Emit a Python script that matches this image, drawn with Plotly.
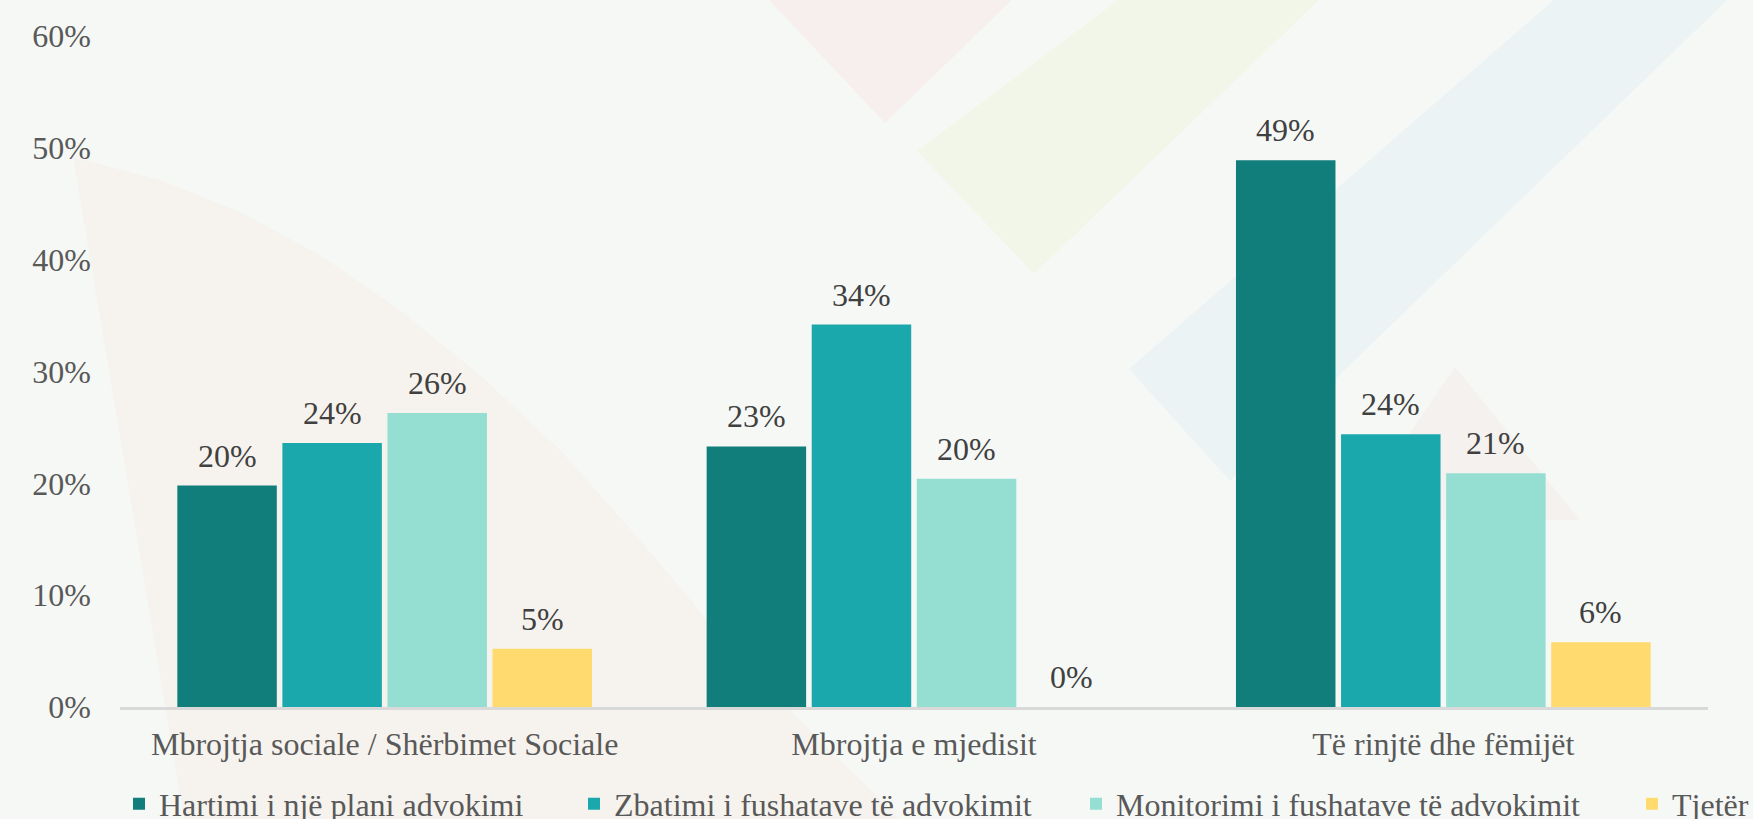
import plotly.graph_objects as go

# ---- data ----
categories = ["Mbrojtja sociale / Shërbimet Sociale", "Mbrojtja e mjedisit", "Të rinjtë dhe fëmijët"]
series_names = [
    "Hartimi i një plani advokimi",
    "Zbatimi i fushatave të advokimit",
    "Monitorimi i fushatave të advokimit",
    "Tjetër",
]
hartimi = [19.8, 23.3, 48.9]
zbatimi = [23.6, 34.2, 24.4]
monitorimi = [26.3, 20.4, 20.9]
tjeter = [5.2, 0.0, 5.8]
y_ticks = [0, 10, 20, 30, 40, 50, 60]
y_tick_labels = [f"{v}%" for v in y_ticks]

colors = ["#117E7B", "#1BA8AD", "#94DFD1", "#FFDA6E"]
series_values = [hartimi, zbatimi, monitorimi, tjeter]

W, H = 1753, 819
ML, MR, MT, MB = 120, 45, 36, 112
PW, PH = W - ML - MR, H - MT - MB
BARGAP, BARGROUPGAP = 0.206, 0.053

FONT = "Liberation Serif, Times New Roman, serif"
BG = "#F6F8F6"

fig = go.Figure()
legend_ids = ["legend", "legend2", "legend3", "legend4"]
for name, vals, col, lid in zip(series_names, series_values, colors, legend_ids):
    fig.add_trace(go.Bar(
        x=categories, y=vals, name=name,
        marker=dict(color=col, line=dict(width=0)),
        legend=lid, hoverinfo="x+y+name",
    ))

# data labels above each bar (offset to follow the grouped-bar slots)
n_series = len(series_values)
slot_px = PW / len(categories) * (1 - BARGAP) / n_series
annotations = []
for i, vals in enumerate(series_values):
    for cat, v in zip(categories, vals):
        annotations.append(dict(
            x=cat, y=v, xref="x", yref="y",
            text=f"{v:.0f}%", showarrow=False,
            xshift=(i - (n_series - 1) / 2) * slot_px, yshift=10,
            yanchor="bottom", xanchor="center",
            font=dict(family=FONT, size=32, color="#404040"),
        ))

# faint decorative background shapes (pixel coords -> paper coords)
def to_paper(pts):
    return [((x - ML) / PW, (H - MB - y) / PH) for x, y in pts]

def path(pts):
    p = to_paper(pts)
    return "M " + " L ".join(f"{x:.4f},{y:.4f}" for x, y in p) + " Z"

deco = [
    ([(73, 157), (160, 180), (240, 212), (320, 255), (400, 310), (480, 375), (560, 450),
      (640, 540), (720, 635), (800, 720), (900, 819), (184, 819)], "rgba(246,236,224,0.35)"),
    ([(769, 0), (1012, 0), (885, 123)], "rgba(246,228,228,0.45)"),
    ([(1118, 0), (1319, 0), (1034, 274), (917, 151)], "rgba(238,244,222,0.55)"),
    ([(1554, 0), (1727, 0), (1230, 481), (1129, 369)], "rgba(226,238,244,0.55)"),
    ([(1455, 367), (1350, 520), (1580, 520)], "rgba(246,230,230,0.4)"),
]
shapes = []
for pts, fill in deco:
    shapes.append(dict(type="path", xref="paper", yref="paper", path=path(pts),
                       fillcolor=fill, line=dict(width=0), layer="below"))

legend_common = dict(
    orientation="h", xref="container", yref="container", yanchor="middle", xanchor="left",
    bgcolor="rgba(0,0,0,0)", borderwidth=0,
    font=dict(family=FONT, size=32, color="#595959"),
)
legend_x_px = [119, 574, 1076, 1632]
legend_y = (H - 804) / H

layout_legends = {}
for lid, xpx in zip(legend_ids, legend_x_px):
    layout_legends[lid] = dict(legend_common, x=xpx / W, y=legend_y)

fig.update_layout(
    width=W, height=H,
    margin=dict(l=ML, r=MR, t=MT, b=MB, autoexpand=False),
    paper_bgcolor=BG, plot_bgcolor="rgba(0,0,0,0)",
    barmode="group", bargap=BARGAP, bargroupgap=BARGROUPGAP,
    font=dict(family=FONT, size=32, color="#595959"),
    shapes=shapes, annotations=annotations,
    showlegend=True,
    **layout_legends,
)
fig.update_xaxes(
    showline=True, linecolor="#D9D9D9", linewidth=2.5,
    showgrid=False, zeroline=False, ticks="",
    tickfont=dict(family=FONT, size=32, color="#595959"),
    ticklabelstandoff=7,
)
fig.update_yaxes(
    range=[0, 60], tickmode="array", tickvals=y_ticks, ticktext=y_tick_labels,
    showgrid=False, zeroline=False, showline=False, ticks="",
    tickfont=dict(family=FONT, size=32, color="#595959"),
    ticklabelstandoff=28,
)

fig.write_html(
    "out.html",
    config={"displayModeBar": False},
    post_script="document.body.style.margin='0px';document.body.style.overflow='hidden';",
)
